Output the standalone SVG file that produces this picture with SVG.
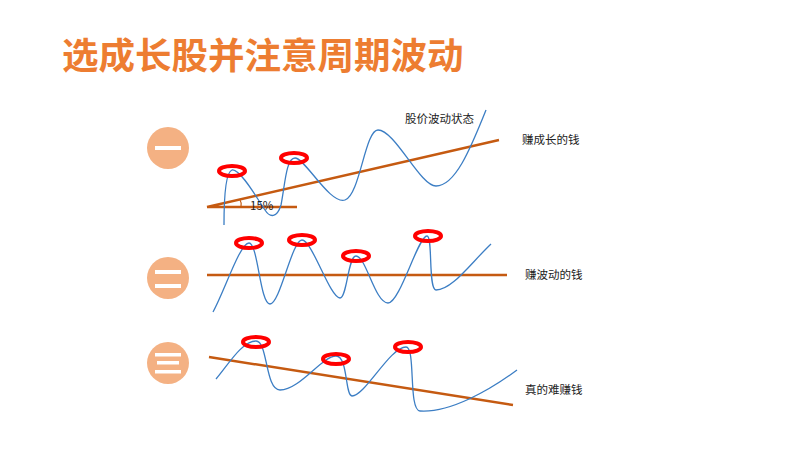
<svg xmlns="http://www.w3.org/2000/svg" width="800" height="450" viewBox="0 0 800 450">
<style>
.t{font-family:"Noto Sans CJK SC","Liberation Sans",sans-serif}
.lbl{font-size:11.5px;fill:#222}
.trend{stroke:#C55A11;stroke-width:2.5;fill:none}
.wave{stroke:#3C7EC4;stroke-width:1.3;fill:none}
.ring{stroke:#FF0000;stroke-width:4;fill:none}
.badge{fill:#F4B183}
</style>
<rect width="800" height="450" fill="#fff"/>
<text class="t" x="62" y="69" font-size="36.5" font-weight="bold" fill="#ED7D31">选成长股并注意周期波动</text>
<g id="badge1"><circle class="badge" cx="168" cy="148" r="21"/><rect x="155" y="146" width="26" height="4" fill="#fff"/></g>
<g id="badge2"><circle class="badge" cx="168" cy="278" r="21"/><rect x="155" y="270" width="26" height="4" fill="#fff"/><rect x="155" y="284" width="26" height="4" fill="#fff"/></g>
<g id="badge3"><circle class="badge" cx="168" cy="363" r="21"/><rect x="155" y="353" width="26" height="3.5" fill="#fff"/><rect x="157" y="361" width="22" height="3.5" fill="#fff"/><rect x="155" y="370" width="26" height="3.5" fill="#fff"/></g>
<g id="connectors">
<path class="trend" d="M207 207 H297 M207 207 L499 140"/>
<path d="M240 200 Q242 203 241 207" stroke="#C55A11" stroke-width="1.2" fill="none"/>
<path class="wave" d="M224 225 C224 195 226 172 232 170 C240 168 258 200 265 210 C270 218 277 218 281 205 C285 185 286 158 295 158 C305 158 330 205 345 200 C360 195 365 130 378 130 C395 130 420 186 436 186 C455 186 470 150 486 110"/>
<path class="trend" d="M207 275 H507"/>
<path class="wave" d="M213 312 C225 290 240 243 249 243 C258 243 260 304 270 304 C280 304 292 240 302 240 C312 240 330 298 340 298 C347 298 348 256 356 256 C366 256 375 303 388 303 C400 303 418 236 427 236 C433 236 428 290 436 290 C452 290 470 264 491 244"/>
<path class="trend" d="M209 357 L513 405"/>
<path class="wave" d="M216 379 C228 365 242 341 256 341 C268 341 265 390 280 390 C300 390 322 356 336 356 C348 356 345 396 352 396 C365 396 390 347 406 347 C416 347 408 410 420 411 C450 413 490 390 517 370"/>
</g>
<g id="rings">
<ellipse class="ring" cx="232" cy="171" rx="13" ry="5"/>
<ellipse class="ring" cx="294" cy="158" rx="13" ry="5"/>
<ellipse class="ring" cx="249" cy="243" rx="13" ry="5"/>
<ellipse class="ring" cx="302" cy="240" rx="13" ry="5"/>
<ellipse class="ring" cx="356" cy="256" rx="13" ry="5"/>
<ellipse class="ring" cx="428" cy="236" rx="13" ry="5"/>
<ellipse class="ring" cx="256" cy="342" rx="13" ry="5"/>
<ellipse class="ring" cx="336" cy="359" rx="13" ry="5"/>
<ellipse class="ring" cx="408" cy="347" rx="13" ry="5"/>
</g>
<g id="labels" class="t">
<text class="lbl" x="250" y="210" font-size="12">15%</text>
<text class="lbl" x="405" y="123">股价波动状态</text>
<text class="lbl" x="522" y="144">赚成长的钱</text>
<text class="lbl" x="525" y="279">赚波动的钱</text>
<text class="lbl" x="525" y="394">真的难赚钱</text>
</g>
</svg>
